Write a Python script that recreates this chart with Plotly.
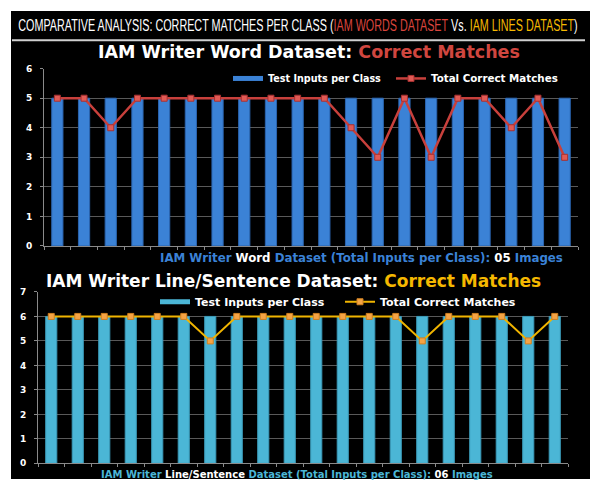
import plotly.graph_objects as go

classes = [str(i) for i in range(1, 21)]
word_inputs = [5] * 20
word_matches = [5, 5, 4, 5, 5, 5, 5, 5, 5, 5, 5, 4, 3, 5, 3, 5, 5, 4, 5, 3]
line_inputs = [6] * 20
line_matches = [6, 6, 6, 6, 6, 6, 5, 6, 6, 6, 6, 6, 6, 6, 5, 6, 6, 6, 5, 6]

W, H = 592, 484
def px(x): return x / W
def py(y): return 1 - y / H

BLUE = "#3b82d6"
CYAN = "#4bb6d6"
RED = "#c8403c"
GOLD = "#f0b400"

fig = go.Figure()
# top chart
fig.add_trace(go.Bar(x=classes, y=word_inputs, name="Test Inputs per Class", showlegend=False,
                     marker=dict(color=BLUE, line=dict(color="#2a64b0", width=1)),
                     xaxis="x", yaxis="y"))
fig.add_trace(go.Scatter(x=[None], y=[None], name="Test Inputs per Class", mode="lines",
                         line=dict(color=BLUE, width=5), xaxis="x", yaxis="y", legend="legend"))
fig.add_trace(go.Scatter(x=classes, y=word_matches, name="Total Correct Matches", mode="lines+markers",
                         line=dict(color=RED, width=2.5),
                         marker=dict(symbol="square", size=6, color="#e05a55", line=dict(color="#a83030", width=1)),
                         xaxis="x", yaxis="y", legend="legend2"))
# bottom chart
fig.add_trace(go.Bar(x=classes, y=line_inputs, name="Test Inputs per Class", showlegend=False,
                     marker=dict(color=CYAN, line=dict(color="#3a9ab8", width=1)),
                     xaxis="x2", yaxis="y2"))
fig.add_trace(go.Scatter(x=[None], y=[None], name="Test Inputs per Class", mode="lines",
                         line=dict(color=CYAN, width=5), xaxis="x2", yaxis="y2", legend="legend3"))
fig.add_trace(go.Scatter(x=classes, y=line_matches, name="Total Correct Matches", mode="lines+markers",
                         line=dict(color=GOLD, width=2),
                         marker=dict(symbol="square", size=6, color="#f5a445", line=dict(color="#d08020", width=1)),
                         xaxis="x2", yaxis="y2", legend="legend4"))

tickfont = dict(family="DejaVu Sans", size=9, color="white", weight="bold")
axcommon = dict(showgrid=False, showline=True, linecolor="#8a8a8a", ticks="outside", ticklen=3,
                tickcolor="#8a8a8a", showticklabels=False, tickson="boundaries", fixedrange=True)
ycommon = dict(showgrid=True, gridcolor="#595959", gridwidth=1, zeroline=False, showline=True,
               linecolor="#8a8a8a", ticks="outside", ticklen=3, tickcolor="#8a8a8a",
               tickfont=tickfont, dtick=1, ticklabelstandoff=6)

def leg(x, y, size):
    return dict(orientation="h", x=px(x), y=py(y), xanchor="left", yanchor="middle",
                bgcolor="rgba(0,0,0,0)", itemwidth=30,
                font=dict(family="DejaVu Sans", size=size, color="white", weight="bold"))

fig.update_layout(
    width=W, height=H, margin=dict(l=0, r=0, t=0, b=0),
    paper_bgcolor="white", plot_bgcolor="#3c3c3c", bargap=0.58,
    showlegend=True,
    xaxis=dict(domain=[px(44), px(578)], anchor="y", range=[-0.5, 19.5], **axcommon),
    yaxis=dict(domain=[py(246), py(65)], anchor="x", range=[0, 6], **ycommon),
    xaxis2=dict(domain=[px(38), px(568)], anchor="y2", range=[-0.5, 19.5], **axcommon),
    yaxis2=dict(domain=[py(468), py(293)], anchor="x2", range=[0, 7], **ycommon),
    legend=leg(228, 75, 9.6),
    legend2=leg(391, 75, 10.3),
    legend3=leg(155, 303, 11),
    legend4=leg(340, 303, 11),
)

shapes = [
    dict(type="rect", xref="paper", yref="paper", x0=px(11), x1=px(590), y0=0, y1=py(6),
         fillcolor="black", line=dict(width=0), layer="below"),
    dict(type="line", xref="paper", yref="paper", x0=px(12), x1=px(585), y0=py(36), y1=py(36),
         line=dict(color="#d0d0d0", width=2)),
]
fig.update_layout(shapes=shapes)

def A(x, y, text, fam, size, xanchor="center"):
    return dict(x=px(x), y=py(y), xref="paper", yref="paper", showarrow=False,
                xanchor=xanchor, yanchor="middle", text=text,
                font=dict(family=fam, size=size, color="white"))

ann = [
    A(298, 21, "COMPARATIVE ANALYSIS: CORRECT MATCHES PER CLASS (<span style='color:#d8443c'>IAM WORDS DATASET</span> Vs. <span style='color:#f5b800'>IAM LINES DATASET</span>)",
      "Liberation Sans", 17),
    A(309, 48, "<b>IAM Writer Word Dataset: <span style='color:#d0463f'>Correct Matches</span></b>",
      "DejaVu Sans", 17.5),
    A(565, 258, "<b><span style='color:#3b82d6'>IAM Writer</span> Word <span style='color:#3b82d6'>Dataset (Total Inputs per Class):</span> 05 <span style='color:#3b82d6'>Images</span></b>",
      "DejaVu Sans", 11.8, xanchor="right"),
    A(293, 282, "<b>IAM Writer Line/Sentence Dataset: <span style='color:#f5b800'>Correct Matches</span></b>",
      "DejaVu Sans", 17),
    A(297, 479, "<b><span style='color:#4bb6d6'>IAM Writer</span> Line/Sentence <span style='color:#4bb6d6'>Dataset (Total Inputs per Class):</span> 06 <span style='color:#4bb6d6'>Images</span></b>",
      "DejaVu Sans", 10),
]
fig.update_layout(annotations=ann)

post = """
var t = document.querySelector('.annotation[data-index="0"] text');
if (t) { t.style.transformBox = 'fill-box'; t.style.transformOrigin = 'center'; t.style.transform = 'scale(0.635,1)'; }
"""
fig.write_html("out.html", post_script=post)
